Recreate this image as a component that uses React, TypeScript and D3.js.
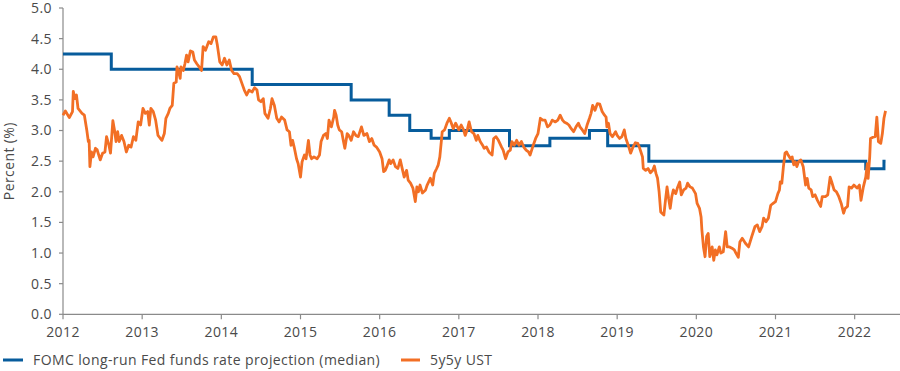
import React from "react";
import * as d3 from "d3";

const yearTicks = [2012, 2013, 2014, 2015, 2016, 2017, 2018, 2019, 2020, 2021, 2022];
const valueTicks = [0, 0.5, 1, 1.5, 2, 2.5, 3, 3.5, 4, 4.5, 5];
const seriesNames = ["FOMC long-run Fed funds rate projection (median)", "5y5y UST"];
const yTitle = "Percent (%)";

// FOMC long-run median (step changes: [decimal year, value])
const fomcSteps: [number, number][] = [
  [2012.0, 4.25], [2012.61, 4.0], [2014.39, 3.75], [2015.64, 3.5], [2016.12, 3.25],
  [2016.38, 3.0], [2016.65, 2.875], [2016.88, 3.0], [2017.64, 2.75], [2018.15, 2.875],
  [2018.65, 3.0], [2018.88, 2.75], [2019.4, 2.5], [2022.14, 2.375], [2022.37, 2.5], [2022.39, 2.5],
];

// 5y5y UST forward ([decimal year, value])
const ust5y5y: [number, number][] = [
  [2012.0, 3.25], [2012.03, 3.32], [2012.08, 3.21], [2012.12, 3.31], [2012.13, 3.64], [2012.15, 3.52],
  [2012.17, 3.58], [2012.19, 3.36], [2012.24, 3.28], [2012.27, 3.25], [2012.3, 3.01], [2012.32, 2.82],
  [2012.33, 2.84], [2012.34, 2.41], [2012.36, 2.65], [2012.38, 2.57], [2012.41, 2.71], [2012.43, 2.69],
  [2012.47, 2.52], [2012.5, 2.63], [2012.53, 2.65], [2012.55, 2.9], [2012.58, 2.76], [2012.6, 2.63],
  [2012.63, 3.16], [2012.65, 3.01], [2012.67, 2.82], [2012.69, 2.98], [2012.71, 2.82], [2012.74, 2.92],
  [2012.77, 2.82], [2012.8, 2.65], [2012.83, 2.76], [2012.86, 2.73], [2012.89, 2.9], [2012.92, 2.84],
  [2012.95, 3.14], [2012.98, 3.09], [2013.01, 3.36], [2013.04, 3.28], [2013.07, 3.31], [2013.09, 3.09],
  [2013.11, 3.36], [2013.14, 3.31], [2013.17, 3.17], [2013.2, 2.92], [2013.23, 2.87], [2013.25, 2.84],
  [2013.28, 2.95], [2013.3, 3.2], [2013.33, 3.28], [2013.35, 3.36], [2013.38, 3.41], [2013.4, 3.77],
  [2013.43, 3.79], [2013.44, 4.04], [2013.46, 3.96], [2013.48, 3.85], [2013.49, 4.04], [2013.52, 3.98],
  [2013.54, 4.09], [2013.56, 4.23], [2013.58, 4.12], [2013.61, 4.3], [2013.64, 4.28], [2013.66, 4.15],
  [2013.69, 4.09], [2013.72, 4.04], [2013.75, 3.98], [2013.77, 4.37], [2013.8, 4.31], [2013.84, 4.45],
  [2013.87, 4.42], [2013.9, 4.53], [2013.93, 4.53], [2013.95, 4.39], [2013.98, 4.12], [2014.01, 4.07],
  [2014.04, 4.18], [2014.07, 4.07], [2014.1, 4.15], [2014.13, 3.98], [2014.16, 3.93], [2014.2, 3.93],
  [2014.23, 3.88], [2014.26, 3.77], [2014.29, 3.66], [2014.32, 3.58], [2014.35, 3.66], [2014.39, 3.63],
  [2014.42, 3.7], [2014.45, 3.66], [2014.47, 3.5], [2014.5, 3.47], [2014.53, 3.52], [2014.55, 3.28],
  [2014.59, 3.2], [2014.62, 3.36], [2014.64, 3.52], [2014.67, 3.41], [2014.7, 3.2], [2014.73, 3.14],
  [2014.76, 3.22], [2014.8, 3.17], [2014.83, 3.01], [2014.86, 2.98], [2014.88, 2.76], [2014.9, 2.84],
  [2014.92, 2.73], [2014.95, 2.54], [2014.97, 2.46], [2015.0, 2.24], [2015.02, 2.49], [2015.05, 2.6],
  [2015.07, 2.54], [2015.1, 2.84], [2015.12, 2.6], [2015.14, 2.54], [2015.17, 2.57], [2015.21, 2.54],
  [2015.24, 2.6], [2015.26, 2.82], [2015.29, 2.92], [2015.32, 2.95], [2015.34, 2.87], [2015.36, 3.17],
  [2015.39, 3.06], [2015.42, 3.22], [2015.43, 3.33], [2015.45, 3.25], [2015.47, 3.09], [2015.49, 3.01],
  [2015.52, 2.98], [2015.54, 2.84], [2015.56, 2.71], [2015.59, 2.95], [2015.61, 2.92], [2015.64, 2.84],
  [2015.67, 2.98], [2015.7, 2.92], [2015.73, 2.9], [2015.77, 3.06], [2015.8, 2.92], [2015.84, 2.95],
  [2015.87, 2.82], [2015.9, 2.87], [2015.93, 2.76], [2015.96, 2.73], [2016.0, 2.65], [2016.03, 2.54],
  [2016.05, 2.33], [2016.07, 2.35], [2016.09, 2.41], [2016.12, 2.52], [2016.14, 2.46], [2016.17, 2.52],
  [2016.2, 2.41], [2016.23, 2.38], [2016.26, 2.52], [2016.29, 2.35], [2016.31, 2.24], [2016.34, 2.35],
  [2016.36, 2.19], [2016.39, 2.14], [2016.42, 2.06], [2016.45, 1.84], [2016.47, 2.08], [2016.49, 2.0],
  [2016.51, 2.11], [2016.54, 1.98], [2016.58, 2.03], [2016.6, 2.11], [2016.64, 2.22], [2016.67, 2.11],
  [2016.69, 2.3], [2016.72, 2.38], [2016.74, 2.44], [2016.76, 2.57], [2016.78, 2.84], [2016.79, 2.98],
  [2016.82, 3.01], [2016.85, 3.12], [2016.88, 3.2], [2016.9, 3.14], [2016.93, 3.03], [2016.96, 3.12],
  [2017.0, 3.01], [2017.03, 3.09], [2017.06, 3.01], [2017.08, 2.92], [2017.11, 3.03], [2017.13, 3.14],
  [2017.16, 2.98], [2017.19, 2.95], [2017.22, 2.84], [2017.24, 2.92], [2017.27, 2.82], [2017.3, 2.76],
  [2017.32, 2.71], [2017.35, 2.73], [2017.38, 2.65], [2017.42, 2.6], [2017.44, 2.87], [2017.47, 2.9],
  [2017.5, 2.84], [2017.54, 2.73], [2017.56, 2.68], [2017.59, 2.54], [2017.62, 2.65], [2017.65, 2.68],
  [2017.67, 2.82], [2017.7, 2.76], [2017.73, 2.84], [2017.76, 2.76], [2017.79, 2.82], [2017.82, 2.73],
  [2017.85, 2.68], [2017.88, 2.65], [2017.9, 2.6], [2017.92, 2.68], [2017.94, 2.76], [2017.97, 2.87],
  [2018.0, 2.95], [2018.03, 3.2], [2018.06, 3.17], [2018.09, 3.17], [2018.12, 3.06], [2018.15, 3.09],
  [2018.18, 3.17], [2018.22, 3.14], [2018.25, 3.17], [2018.28, 3.25], [2018.31, 3.17], [2018.33, 3.14],
  [2018.36, 3.12], [2018.39, 3.09], [2018.42, 3.03], [2018.45, 2.98], [2018.48, 3.06], [2018.51, 3.12],
  [2018.53, 3.06], [2018.56, 3.01], [2018.59, 2.95], [2018.62, 3.09], [2018.65, 3.2], [2018.67, 3.28],
  [2018.69, 3.41], [2018.72, 3.33], [2018.75, 3.44], [2018.78, 3.43], [2018.81, 3.31], [2018.84, 3.25],
  [2018.86, 3.22], [2018.87, 3.06], [2018.89, 3.12], [2018.91, 2.95], [2018.94, 2.9], [2018.98, 2.98],
  [2019.0, 2.92], [2019.03, 2.87], [2019.06, 2.9], [2019.09, 3.01], [2019.11, 2.87], [2019.14, 2.76],
  [2019.17, 2.63], [2019.2, 2.73], [2019.23, 2.8], [2019.26, 2.79], [2019.28, 2.73], [2019.3, 2.65],
  [2019.32, 2.57], [2019.33, 2.38], [2019.36, 2.35], [2019.39, 2.38], [2019.42, 2.31], [2019.45, 2.35],
  [2019.47, 2.42], [2019.49, 2.3], [2019.51, 2.22], [2019.53, 2.0], [2019.55, 1.67], [2019.59, 1.62],
  [2019.61, 1.86], [2019.63, 2.08], [2019.65, 1.89], [2019.67, 1.73], [2019.69, 1.92], [2019.71, 2.03],
  [2019.74, 1.97], [2019.76, 2.06], [2019.79, 2.16], [2019.81, 1.95], [2019.84, 2.03], [2019.87, 2.06],
  [2019.89, 2.14], [2019.92, 2.08], [2019.95, 2.06], [2019.99, 1.97], [2020.01, 1.81], [2020.04, 1.73],
  [2020.06, 1.59], [2020.07, 1.38], [2020.09, 1.1], [2020.11, 0.94], [2020.13, 1.27], [2020.15, 1.32],
  [2020.17, 0.94], [2020.2, 1.1], [2020.22, 0.88], [2020.24, 1.05], [2020.26, 0.97], [2020.29, 1.1],
  [2020.31, 1.0], [2020.34, 1.02], [2020.37, 1.35], [2020.39, 1.1], [2020.42, 1.1], [2020.45, 1.08],
  [2020.48, 1.05], [2020.5, 1.0], [2020.53, 0.93], [2020.55, 1.18], [2020.58, 1.24], [2020.62, 1.16],
  [2020.66, 1.1], [2020.7, 1.27], [2020.74, 1.43], [2020.77, 1.46], [2020.8, 1.35], [2020.83, 1.43],
  [2020.85, 1.57], [2020.88, 1.51], [2020.91, 1.57], [2020.94, 1.78], [2020.97, 1.81], [2021.0, 1.84],
  [2021.03, 1.97], [2021.05, 2.03], [2021.06, 2.16], [2021.08, 2.14], [2021.1, 2.41], [2021.12, 2.63],
  [2021.14, 2.65], [2021.16, 2.6], [2021.19, 2.54], [2021.21, 2.57], [2021.23, 2.44], [2021.25, 2.49],
  [2021.27, 2.41], [2021.29, 2.49], [2021.32, 2.52], [2021.35, 2.41], [2021.38, 2.11], [2021.4, 2.22],
  [2021.42, 2.06], [2021.45, 2.03], [2021.47, 1.92], [2021.5, 1.95], [2021.53, 1.86], [2021.57, 1.76],
  [2021.59, 1.92], [2021.63, 1.92], [2021.66, 1.95], [2021.69, 2.24], [2021.71, 2.16], [2021.74, 2.03],
  [2021.77, 2.0], [2021.8, 1.92], [2021.83, 1.81], [2021.86, 1.65], [2021.88, 1.73], [2021.91, 1.76],
  [2021.93, 2.08], [2021.96, 2.06], [2021.99, 2.11], [2022.03, 2.06], [2022.06, 2.11], [2022.08, 1.86],
  [2022.11, 2.08], [2022.14, 2.24], [2022.16, 2.46], [2022.17, 2.22], [2022.19, 2.57], [2022.2, 2.87],
  [2022.23, 2.89], [2022.26, 2.9], [2022.28, 3.22], [2022.3, 2.82], [2022.33, 2.79], [2022.35, 2.95],
  [2022.37, 3.2], [2022.39, 3.32],
];

const W = 900;
const H = 371;
const BLUE = "#075c9c";
const ORANGE = "#f26f25";
const AXIS = "#8a8a8a";
const TEXT = "#4a4a4a";
const FONT = "'Open Sans', sans-serif";
const FS = 14;
const LS = 0.4;

export default function App() {
  const x = d3.scaleLinear().domain([2012, 2022.56]).range([63, 899]);
  const y = d3.scaleLinear().domain([0, 5]).range([314.3, 8]);

  const blueLine = d3
    .line<[number, number]>()
    .x((d) => x(d[0]))
    .y((d) => y(d[1]))
    .curve(d3.curveStepAfter);
  const orangeLine = d3
    .line<[number, number]>()
    .x((d) => x(d[0]))
    .y((d) => y(d[1]))
    .curve(d3.curveLinear);

  const x0 = x.range()[0];
  const y0 = y(0);

  return (
    <svg
      width={W}
      height={H}
      style={{ position: "absolute", left: 0, top: 0, background: "#fff" }}
      fontFamily={FONT}
    >
      {/* y axis */}
      <line x1={x0} x2={x0} y1={y(5)} y2={y0} stroke={AXIS} strokeWidth={1.2} />
      {valueTicks.map((v) => (
        <g key={"y" + v}>
          <line x1={x0 - 4} x2={x0} y1={y(v)} y2={y(v)} stroke={AXIS} strokeWidth={1.2} />
          <text
            x={x0 - 11}
            y={y(v)}
            dy="0.35em"
            textAnchor="end"
            fontSize={FS}
            letterSpacing={LS}
            fill={TEXT}
          >
            {d3.format(".1f")(v)}
          </text>
        </g>
      ))}
      <text
        transform={`translate(14, ${(y(5) + y0) / 2}) rotate(-90)`}
        textAnchor="middle"
        fontSize={FS}
        letterSpacing={LS}
        fill={TEXT}
      >
        {yTitle}
      </text>

      {/* x axis */}
      <line x1={x0} x2={W} y1={y0} y2={y0} stroke={AXIS} strokeWidth={1.2} />
      {yearTicks.map((t) => (
        <g key={"x" + t}>
          <line x1={x(t)} x2={x(t)} y1={y0} y2={y0 + 5} stroke={AXIS} strokeWidth={1.2} />
          <text
            x={x(t)}
            y={y0 + 23}
            textAnchor="middle"
            fontSize={FS}
            letterSpacing={LS}
            fill={TEXT}
          >
            {d3.format("d")(t)}
          </text>
        </g>
      ))}

      {/* series */}
      <path d={blueLine(fomcSteps) ?? ""} fill="none" stroke={BLUE} strokeWidth={3} />
      <path
        d={orangeLine(ust5y5y) ?? ""}
        fill="none"
        stroke={ORANGE}
        strokeWidth={2.8}
        strokeLinejoin="round"
      />

      {/* legend */}
      <g>
        <line x1={3} x2={23} y1={360} y2={360} stroke={BLUE} strokeWidth={3} />
        <text x={33} y={360} dy="0.35em" fontSize={FS} letterSpacing={LS} fill={TEXT}>
          {seriesNames[0]}
        </text>
        <line x1={401} x2={420} y1={360} y2={360} stroke={ORANGE} strokeWidth={3} />
        <text x={430} y={360} dy="0.35em" fontSize={FS} letterSpacing={LS} fill={TEXT}>
          {seriesNames[1]}
        </text>
      </g>
    </svg>
  );
}
